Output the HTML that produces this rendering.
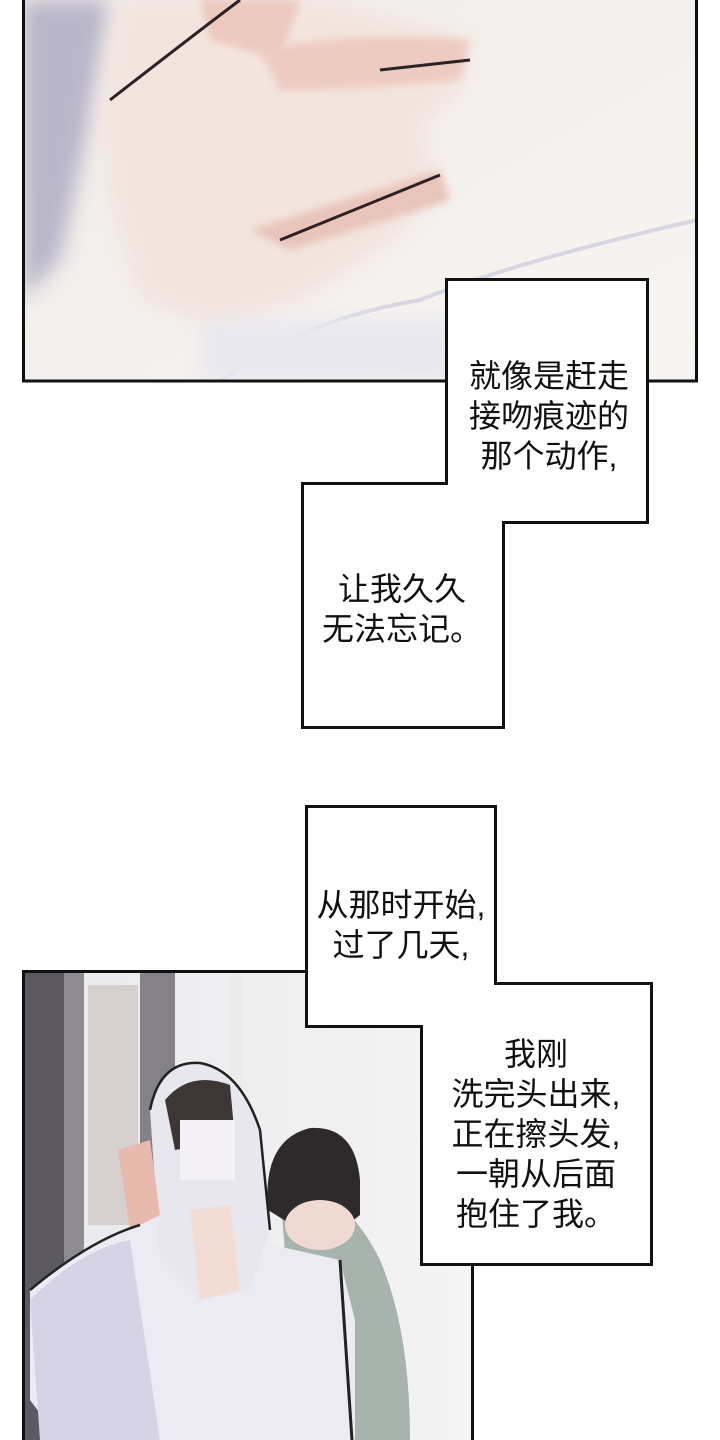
<!DOCTYPE html>
<html><head><meta charset="utf-8"><style>
html,body{margin:0;padding:0;background:#fff;}
body{width:720px;height:1440px;position:relative;overflow:hidden;}
svg{position:absolute;left:0;top:0;}
.t{position:absolute;font-family:"Liberation Sans","Noto Sans CJK SC",sans-serif;font-size:32px;color:#111;text-align:center;line-height:40px;white-space:nowrap;}
</style></head><body>
<svg width="720" height="1440" viewBox="0 0 720 1440">
<defs>
<filter id="b" x="-20%" y="-20%" width="140%" height="140%"><feGaussianBlur stdDeviation="10"/></filter>
<filter id="b2"><feGaussianBlur stdDeviation="4"/></filter>
<linearGradient id="bg1" x1="0" y1="0" x2="1" y2="1"><stop offset="0" stop-color="#f1ece9"/><stop offset="1" stop-color="#f7f4f1"/></linearGradient>
<linearGradient id="wall" x1="0" y1="0" x2="1" y2="0"><stop offset="0" stop-color="#e9e8ec"/><stop offset="1" stop-color="#f4f4f4"/></linearGradient>
<clipPath id="c1"><rect x="22" y="0" width="676" height="382"/></clipPath>
<clipPath id="c2"><rect x="22" y="971" width="451" height="469"/></clipPath>
</defs>
<g clip-path="url(#c1)">
<rect x="22" y="0" width="676" height="382" fill="url(#bg1)"/>
<path d="M22 0 L110 0 L90 120 L60 260 L22 300Z" fill="#b9b6ca" filter="url(#b)"/>
<path d="M120 0 L330 0 L470 40 L460 90 L420 130 L440 190 L380 250 L300 300 L220 330 L140 300 L110 200 L100 110Z" fill="#f3e4de" filter="url(#b)"/>
<path d="M200 0 L300 0 L280 60 L210 40Z" fill="#ecc9bf" filter="url(#b2)"/>
<path d="M260 50 Q360 30 470 40 L460 80 Q360 90 280 90Z" fill="#eecbc1" filter="url(#b2)"/>
<path d="M250 230 L440 170 L450 200 L290 250Z" fill="#e8c4ba" filter="url(#b2)"/>
<path d="M380 70 L470 60" stroke="#2a2224" stroke-width="3" fill="none"/>
<path d="M280 240 L440 175" stroke="#2a2224" stroke-width="3" fill="none"/>
<path d="M240 0 Q200 30 110 100" stroke="#2a2224" stroke-width="3" fill="none"/>
<path d="M220 382 Q300 320 420 300 Q520 260 698 220" stroke="#d8d6e2" stroke-width="4" fill="none"/>
<rect x="200" y="320" width="260" height="62" fill="#e9e8f0" filter="url(#b)"/>
</g>
<rect x="23.5" y="-5" width="673" height="386" fill="none" stroke="#111" stroke-width="3"/>
<g clip-path="url(#c2)">
<rect x="22" y="971" width="451" height="469" fill="url(#wall)"/>
<rect x="22" y="971" width="42" height="469" fill="#5c5962"/>
<rect x="64" y="971" width="20" height="469" fill="#8e8b93"/>
<rect x="140" y="971" width="35" height="250" fill="#858189"/>
<rect x="88" y="985" width="50" height="240" fill="#d6d1cf"/>
<rect x="230" y="971" width="12" height="200" fill="#eceaea"/>
<path d="M280 1190 Q340 1180 380 1260 Q410 1330 410 1440 L300 1440Z" fill="#a7b3ad"/>
<path d="M268 1210 Q262 1140 310 1128 Q355 1125 360 1180 L360 1215 Q330 1240 300 1230 Z" fill="#2e2a2c"/>
<ellipse cx="320" cy="1225" rx="35" ry="25" fill="#f0d9d2"/>
<path d="M30 1290 Q90 1240 140 1225 L170 1200 L200 1230 L250 1240 L340 1260 L355 1320 L355 1440 L60 1440 L30 1400Z" fill="#eceaf3"/>
<path d="M30 1300 Q80 1250 130 1240 L160 1440 L40 1440Z" fill="#d6d3e6"/>
<path d="M150 1110 Q160 1060 200 1063 Q240 1070 260 1130 L270 1230 L250 1290 L200 1300 L160 1260Z" fill="#e8e7f0"/>
<path d="M165 1100 Q190 1070 230 1085 L235 1140 L175 1150Z" fill="#3e3634"/>
<rect x="180" y="1120" width="55" height="60" fill="#f4f2f6"/>
<path d="M190 1210 L230 1205 L240 1290 L200 1300Z" fill="#f2dcd3"/>
<path d="M118 1150 L150 1140 L160 1215 L130 1230Z" fill="#e8b9ad"/>
<path d="M150 1110 Q160 1060 200 1063 Q240 1070 260 1130 L270 1230" stroke="#222" stroke-width="2.5" fill="none"/>
<path d="M340 1260 L352 1440" stroke="#222" stroke-width="3" fill="none"/>
<path d="M30 1290 Q90 1240 140 1225" stroke="#222" stroke-width="2.5" fill="none"/>
</g>
<rect x="23.5" y="971.5" width="449" height="475" fill="none" stroke="#111" stroke-width="3"/>
<path d="M446.5 279.5 H647.5 V522.5 H503.5 V727.5 H302.5 V483.5 H446.5 Z" fill="#fff" stroke="#111" stroke-width="3"/>
<path d="M306.5 806.5 H495.5 V983.5 H651.5 V1264.5 H421.5 V1026.5 H306.5 Z" fill="#fff" stroke="#111" stroke-width="3"/>
</svg>
<div class="t" style="left:449px;width:200px;top:356px;">就像是赶走<br>接吻痕迹的<br>那个动作,</div>
<div class="t" style="left:302px;width:200px;top:569px;">让我久久<br>无法忘记。</div>
<div class="t" style="left:306px;width:190px;top:885px;">从那时开始,<br>过了几天,</div>
<div class="t" style="left:421px;width:230px;top:1034px;">我刚<br>洗完头出来,<br>正在擦头发,<br>一朝从后面<br>抱住了我。</div>
</body></html>
